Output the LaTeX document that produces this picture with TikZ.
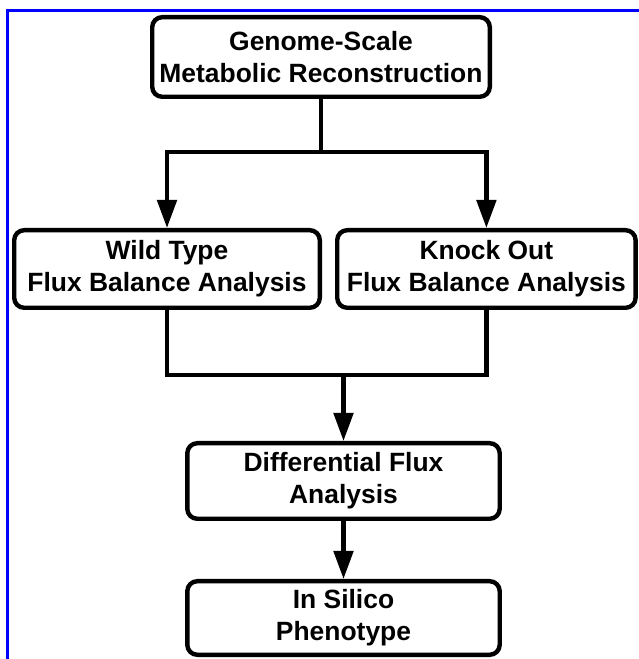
\documentclass[tikz,border=0pt]{standalone}
\usepackage{fontspec}
\setmainfont{Liberation Sans}
\usetikzlibrary{arrows.meta}
\begin{document}
\begin{tikzpicture}[
        stage/.style={draw=black, line width=.11cm, rounded corners=.25cm, align=center, inner sep=0pt, font=\bfseries\fontsize{18.8}{22.8}\selectfont},
        link/.style={line width=.11cm, black},
        flow/.style={link, -{Triangle[length=.7cm,width=.48cm]}}
    ]
        %page size and frame
        \useasboundingbox (0,0) rectangle (15.975,16.475);
        \draw[blue, line width=.075cm] (.2,0) -- (.2,16.21) -- (15.975,16.21);

        % boxes
        \node[stage, minimum width=8.44cm, minimum height=1.99cm] (gsmr) at (8.025,15.05) {Genome-Scale\\Metabolic Reconstruction};
        \node[stage, minimum width=7.64cm, minimum height=1.94cm] (wtfba) at (4.175,9.75) {Wild Type\\Flux Balance Analysis};
        \node[stage, minimum width=7.46cm, minimum height=1.94cm] (kofba) at (12.16,9.75) {Knock Out\\Flux Balance Analysis};
        \node[stage, minimum width=7.81cm, minimum height=1.89cm] (dfa) at (8.5875,4.45) {Differential Flux\\Analysis};
        \node[stage, minimum width=7.81cm, minimum height=1.84cm] (phen) at (8.5875,1.025) {In Silico\\Phenotype};

        \coordinate (split) at (8.025,12.675);
        \coordinate (merge) at (8.5875,7.1);

        % split
        \draw[link] (gsmr.south) -- (split);
        \draw[flow] (split) -| (wtfba.north);
        \draw[flow] (split) -| (kofba.north);

        % merge
        \draw[link] (wtfba.south) |- (merge) -| (kofba.south);
        \draw[flow] (merge) -- (dfa.north);

        \draw[flow] (dfa.south) -- (phen.north);
    \end{tikzpicture}
\end{document}
